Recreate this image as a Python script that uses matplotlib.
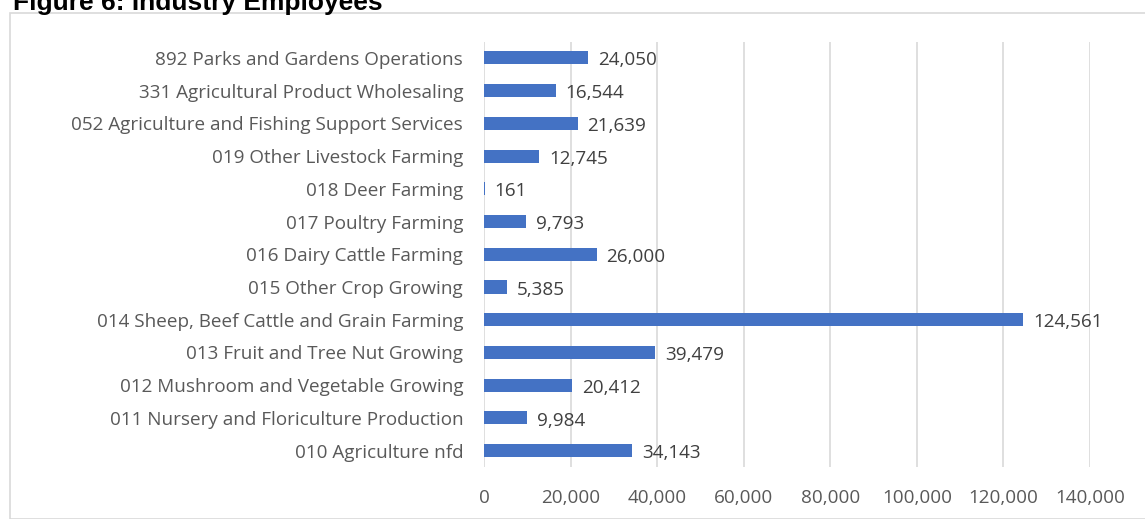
from matplotlib import pyplot as plt
from matplotlib.patches import Rectangle
from matplotlib.ticker import FuncFormatter, MultipleLocator

BLUE = "#4472C4"
GREY_TEXT = "#595959"
GRID = "#D9D9D9"

# bottom to top, as drawn
INDUSTRIES = [
    "010 Agriculture nfd",
    "011 Nursery and Floriculture Production",
    "012 Mushroom and Vegetable Growing",
    "013 Fruit and Tree Nut Growing",
    "014 Sheep, Beef Cattle and Grain Farming",
    "015 Other Crop Growing",
    "016 Dairy Cattle Farming",
    "017 Poultry Farming",
    "018 Deer Farming",
    "019 Other Livestock Farming",
    "052 Agriculture and Fishing Support Services",
    "331 Agricultural Product Wholesaling",
    "892 Parks and Gardens Operations",
]
EMPLOYEES = [34143, 9984, 20412, 39479, 124561, 5385, 26000,
             9793, 161, 12745, 21639, 16544, 24050]

W, H = 1145, 519
FS = 13.6


def main():
    plt.rcParams["font.family"] = ["Open Sans", "DejaVu Sans"]
    fig = plt.figure(figsize=(W / 100, H / 100), dpi=100)

    # chart border
    fig.patches.append(Rectangle((10 / W, 0), 1.2, 1 - 13 / H,
                                 transform=fig.transFigure, fill=False,
                                 edgecolor=GRID, linewidth=1.2))
    fig.text(13 / W, 1 - 3 / H, "Figure 6: Industry Employees",
             fontsize=19, fontweight="bold", family=["Liberation Sans"],
             ha="left", va="center", color="black")

    ax = fig.add_axes([484 / W, 1 - 467 / H, (1090 - 484) / W, (467 - 41.5) / H])
    y = range(len(INDUSTRIES))
    ax.barh(y, EMPLOYEES, height=0.4, color=BLUE, zorder=2)
    for yi, v in zip(y, EMPLOYEES):
        ax.text(v + 2300, yi - 0.08, f"{v:,}", va="center", ha="left",
                fontsize=FS, color="#404040")

    ax.set_xlim(0, 140000)
    ax.set_ylim(-0.5, len(INDUSTRIES) - 0.5)
    ax.xaxis.set_major_locator(MultipleLocator(20000))
    ax.xaxis.set_major_formatter(FuncFormatter(lambda v, p: f"{int(v):,}"))
    ax.set_yticks(list(y))
    ax.set_yticklabels(INDUSTRIES)
    ax.tick_params(axis="y", length=0, pad=15, labelsize=FS, labelcolor=GREY_TEXT)
    ax.tick_params(axis="x", length=0, pad=16, labelsize=FS, labelcolor=GREY_TEXT)
    ax.grid(axis="x", color=GRID, linewidth=1.2, zorder=0)
    for s in ax.spines.values():
        s.set_visible(False)

    plt.savefig("out.png", dpi=100)


if __name__ == "__main__":
    main()
